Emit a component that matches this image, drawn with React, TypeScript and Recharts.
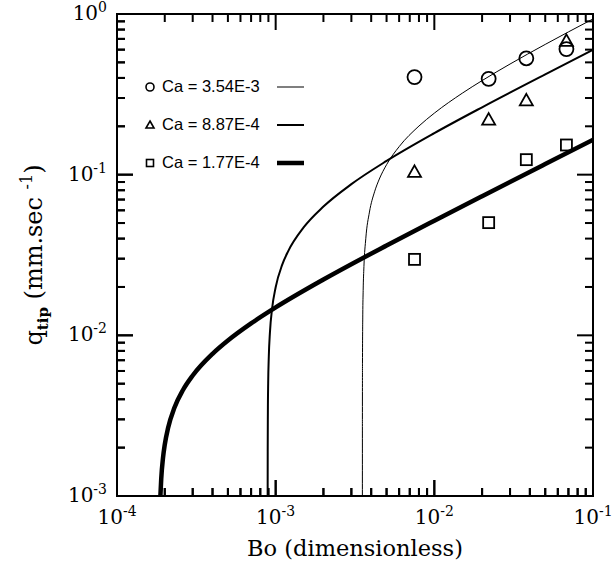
import React from 'react';
import { ComposedChart, Line, Scatter, XAxis, YAxis } from 'recharts';

// Measured points (Bo, q_tip)
const boMeasured = [0.0075, 0.022, 0.038, 0.068];
const qCa354 = [0.405, 0.395, 0.53, 0.605];
const qCa887 = [0.104, 0.22, 0.29, 0.68];
const qCa177 = [0.0297, 0.0503, 0.124, 0.153];

// Model curves
const curveBo354 = [0.0035201, 0.003521, 0.003525, 0.00354, 0.00356, 0.0036, 0.0037, 0.0039, 0.0042, 0.0045, 0.005, 0.006, 0.008, 0.01, 0.015, 0.02, 0.03, 0.05, 0.07, 0.1];
const curveQ354 = [0.001, 0.003, 0.0067, 0.0134, 0.019, 0.0268, 0.0402, 0.0585, 0.0782, 0.0939, 0.1154, 0.1494, 0.2008, 0.2415, 0.3214, 0.3851, 0.4882, 0.6468, 0.7735, 0.9318];
const curveBo887 = [0.0008903, 0.000891, 0.000893, 0.000897, 0.000905, 0.00092, 0.00095, 0.001, 0.0011, 0.0012, 0.0015, 0.002, 0.003, 0.005, 0.01, 0.02, 0.05, 0.1];
const curveQ887 = [0.001, 0.0019, 0.00329, 0.00503, 0.00736, 0.0104, 0.01472, 0.01993, 0.02753, 0.03345, 0.04693, 0.0633, 0.0873, 0.1218, 0.1814, 0.2627, 0.421, 0.5982];
const curveBo177 = [0.0001877, 0.00019, 0.000195, 0.0002, 0.00021, 0.00023, 0.00026, 0.0003, 0.0004, 0.0005, 0.0007, 0.001, 0.002, 0.005, 0.01, 0.02, 0.05, 0.1];
const curveQ177 = [0.001, 0.00128, 0.00173, 0.00209, 0.00266, 0.00354, 0.00455, 0.00562, 0.00767, 0.00928, 0.01186, 0.01491, 0.02224, 0.03623, 0.05172, 0.07348, 0.1165, 0.1649];

const xMajorTicks = [1e-4, 1e-3, 1e-2, 1e-1];
const yMajorTicks = [1e-3, 1e-2, 1e-1, 1];
const minorMultipliers = [2, 3, 4, 5, 6, 7, 8, 9];
const legendLabels = ['Ca = 3.54E-3', 'Ca = 8.87E-4', 'Ca = 1.77E-4'];

const toPoints = (xs: number[], ys: number[]) => xs.map((x, i) => ({ x, y: ys[i] }));
const buildTicks = (majors: number[]) => {
  const out: number[] = [];
  majors.forEach((m, i) => {
    out.push(m);
    if (i < majors.length - 1) minorMultipliers.forEach((k) => out.push(+(m * k).toPrecision(6)));
  });
  return out;
};

const pts354 = toPoints(boMeasured, qCa354);
const pts887 = toPoints(boMeasured, qCa887);
const pts177 = toPoints(boMeasured, qCa177);
const line354 = toPoints(curveBo354, curveQ354);
const line887 = toPoints(curveBo887, curveQ887);
const line177 = toPoints(curveBo177, curveQ177);
const xTicks = buildTicks(xMajorTicks);
const yTicks = buildTicks(yMajorTicks);
const X_DOMAIN = [xMajorTicks[0], xMajorTicks[xMajorTicks.length - 1]];
const Y_DOMAIN = [yMajorTicks[0], yMajorTicks[yMajorTicks.length - 1]];

// Layout
const W = 614;
const H = 566;
const PLOT_LEFT = 117;
const PLOT_RIGHT = 593;
const PLOT_TOP = 14;
const PLOT_BOTTOM = 496;
const PLOT_W = PLOT_RIGHT - PLOT_LEFT;
const PLOT_H = PLOT_BOTTOM - PLOT_TOP;
const MAJOR_LEN = 16;
const MINOR_LEN = 8;
const SW = 2;
const SERIF = 'DejaVu Serif';
const SANS = 'Liberation Sans';

const isMajor = (v: number) => Math.abs(Math.log10(v) - Math.round(Math.log10(v))) < 1e-6;
const expOf = (v: number) => String(Math.round(Math.log10(v)));

const xPos = (v: number) =>
  PLOT_LEFT + ((Math.log10(v) - Math.log10(X_DOMAIN[0])) / (Math.log10(X_DOMAIN[1]) - Math.log10(X_DOMAIN[0]))) * PLOT_W;
const yPos = (v: number) =>
  PLOT_BOTTOM - ((Math.log10(v) - Math.log10(Y_DOMAIN[0])) / (Math.log10(Y_DOMAIN[1]) - Math.log10(Y_DOMAIN[0]))) * PLOT_H;

const bottomTick = (props: any) => {
  const x = Number(props.x);
  const y = Number(props.y);
  const v = props.payload.value;
  const major = isMajor(v);
  const len = major ? MAJOR_LEN : MINOR_LEN;
  return (
    <g>
      <rect x={x - SW / 2} y={y - len} width={SW} height={len} fill="#000" />
      {major && (
        <text x={x} y={y + 28} textAnchor="middle" fontFamily={SERIF} fontSize={20} fill="#000">
          10<tspan dy={-8} fontSize={14}>{expOf(v)}</tspan>
        </text>
      )}
    </g>
  );
};
const leftTick = (props: any) => {
  const x = Number(props.x);
  const y = Number(props.y);
  const v = props.payload.value;
  const major = isMajor(v);
  const len = major ? MAJOR_LEN : MINOR_LEN;
  return (
    <g>
      <rect x={x} y={y - SW / 2} width={len} height={SW} fill="#000" />
      {major && (
        <text x={x - 10} y={y + 6} textAnchor="end" fontFamily={SERIF} fontSize={20} fill="#000">
          10<tspan dy={-8} fontSize={14}>{expOf(v)}</tspan>
        </text>
      )}
    </g>
  );
};

const Circle = (p: any) => <circle cx={p.cx} cy={p.cy} r={7} fill="none" stroke="#000" strokeWidth={1.8} />;
const Tri = (p: any) => (
  <path d={`M${p.cx},${p.cy - 6.5} L${p.cx + 6.5},${p.cy + 5} L${p.cx - 6.5},${p.cy + 5} Z`} fill="none" stroke="#000" strokeWidth={1.8} />
);
const Sq = (p: any) => <rect x={p.cx - 5.5} y={p.cy - 5.5} width={11} height={11} fill="none" stroke="#000" strokeWidth={1.8} />;

const lineWidths = [1, 2, 4.5];
const LEG_X = 150;
const LEG_Y = 87;
const LEG_GAP = 38;
const Y_MID = (PLOT_TOP + PLOT_BOTTOM) / 2;
const Y_LABEL_X = 42;

// Frame, inward tick marks on all four sides, legend and axis titles
const Overlay = () => (
  <svg width={W} height={H} style={{ position: 'absolute', left: 0, top: 0, pointerEvents: 'none', zIndex: 10 }}>
    <rect x={PLOT_LEFT - SW / 2} y={PLOT_TOP - SW / 2} width={PLOT_W + SW} height={SW} fill="#000" />
    <rect x={PLOT_LEFT - SW / 2} y={PLOT_BOTTOM - SW / 2} width={PLOT_W + SW} height={SW} fill="#000" />
    <rect x={PLOT_LEFT - SW / 2} y={PLOT_TOP - SW / 2} width={SW} height={PLOT_H + SW} fill="#000" />
    <rect x={PLOT_RIGHT - SW / 2} y={PLOT_TOP - SW / 2} width={SW} height={PLOT_H + SW} fill="#000" />
    {xTicks.map((v) => {
      const x = xPos(v);
      const len = isMajor(v) ? MAJOR_LEN : MINOR_LEN;
      return (
        <g key={`x${v}`}>
          <rect x={x - SW / 2} y={PLOT_BOTTOM - len} width={SW} height={len} fill="#000" />
          <rect x={x - SW / 2} y={PLOT_TOP} width={SW} height={len} fill="#000" />
        </g>
      );
    })}
    {yTicks.map((v) => {
      const y = yPos(v);
      const len = isMajor(v) ? MAJOR_LEN : MINOR_LEN;
      return (
        <g key={`y${v}`}>
          <rect x={PLOT_LEFT} y={y - SW / 2} width={len} height={SW} fill="#000" />
          <rect x={PLOT_RIGHT - len} y={y - SW / 2} width={len} height={SW} fill="#000" />
        </g>
      );
    })}
    {legendLabels.map((lab, i) => {
      const y = LEG_Y + i * LEG_GAP;
      const mx = LEG_X;
      return (
        <g key={lab}>
          {i === 0 && <circle cx={mx} cy={y} r={4} fill="none" stroke="#000" strokeWidth={1.6} />}
          {i === 1 && <path d={`M${mx},${y - 4} L${mx + 4},${y + 3} L${mx - 4},${y + 3} Z`} fill="none" stroke="#000" strokeWidth={1.6} />}
          {i === 2 && <rect x={mx - 3.5} y={y - 3.5} width={7} height={7} fill="none" stroke="#000" strokeWidth={1.6} />}
          <text x={mx + 12} y={y + 5} fontFamily={SANS} fontSize={16.5} fill="#000">{lab}</text>
          <rect x={mx + 127} y={y - lineWidths[i] / 2} width={27} height={lineWidths[i]} fill="#000" />
        </g>
      );
    })}
    <text x={(PLOT_LEFT + PLOT_RIGHT) / 2} y={556} textAnchor="middle" fontFamily={SERIF} fontSize={22.5} fill="#000">
      Bo (dimensionless)
    </text>
    <text x={Y_LABEL_X} y={Y_MID} transform={`rotate(-90, ${Y_LABEL_X}, ${Y_MID})`} textAnchor="middle" fontFamily={SERIF} fontSize={24} fill="#000">
      q<tspan dy={6} fontSize={15} fontWeight="bold">tip</tspan>
      <tspan dy={-6}> (mm.sec </tspan>
      <tspan dy={-10} fontSize={16}>-1</tspan>
      <tspan dy={10}>)</tspan>
    </text>
  </svg>
);

export default function App() {
  return (
    <div style={{ position: 'absolute', left: 0, top: 0, width: W, height: H }}>
      <ComposedChart width={W} height={H} margin={{ top: 0, left: 0, right: 0, bottom: 0 }}>
        <XAxis
          xAxisId="b"
          dataKey="x"
          type="number"
          scale="log"
          domain={X_DOMAIN}
          allowDataOverflow
          ticks={xTicks}
          interval={0}
          tickSize={0}
          tickMargin={0}
          tickLine={false}
          tick={bottomTick}
          height={H - PLOT_BOTTOM}
          axisLine={{ stroke: '#000', strokeWidth: 2 }}
        />
        <XAxis
          xAxisId="t"
          orientation="top"
          dataKey="x"
          type="number"
          scale="log"
          domain={X_DOMAIN}
          allowDataOverflow
          ticks={xMajorTicks}
          tick={false}
          height={PLOT_TOP}
          axisLine={{ stroke: '#000', strokeWidth: 2 }}
        />
        <YAxis
          yAxisId="l"
          dataKey="y"
          type="number"
          scale="log"
          domain={Y_DOMAIN}
          allowDataOverflow
          ticks={yTicks}
          interval={0}
          tickSize={0}
          tickMargin={0}
          tickLine={false}
          tick={leftTick}
          width={PLOT_LEFT}
          axisLine={{ stroke: '#000', strokeWidth: 2 }}
        />
        <YAxis
          yAxisId="r"
          orientation="right"
          dataKey="y"
          type="number"
          scale="log"
          domain={Y_DOMAIN}
          allowDataOverflow
          ticks={yMajorTicks}
          tick={false}
          width={W - PLOT_RIGHT}
          axisLine={{ stroke: '#000', strokeWidth: 2 }}
        />
        <Line xAxisId="t" yAxisId="r" data={line354} dataKey="y" name="Ca = 3.54E-3" type="monotone" dot={false} stroke="#000" strokeWidth={1} isAnimationActive={false} />
        <Line xAxisId="b" yAxisId="l" data={line887} dataKey="y" name="Ca = 8.87E-4" type="monotone" dot={false} stroke="#000" strokeWidth={2} isAnimationActive={false} />
        <Line xAxisId="b" yAxisId="l" data={line177} dataKey="y" name="Ca = 1.77E-4" type="monotone" dot={false} stroke="#000" strokeWidth={4.5} isAnimationActive={false} />
        <Scatter xAxisId="t" yAxisId="r" data={pts354} dataKey="y" shape={Circle} isAnimationActive={false} />
        <Scatter xAxisId="b" yAxisId="l" data={pts887} dataKey="y" shape={Tri} isAnimationActive={false} />
        <Scatter xAxisId="b" yAxisId="l" data={pts177} dataKey="y" shape={Sq} isAnimationActive={false} />
      </ComposedChart>
      <Overlay />
    </div>
  );
}
